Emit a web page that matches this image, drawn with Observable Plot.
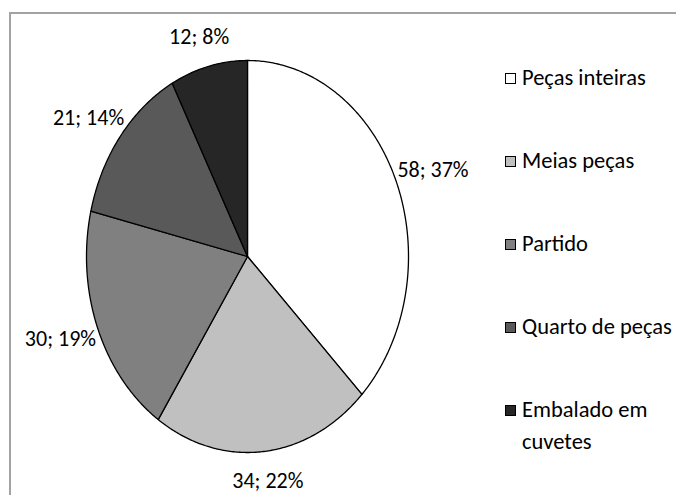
<!DOCTYPE html>
<html>
<head>
<meta charset="utf-8">
<script src="https://cdn.jsdelivr.net/npm/d3@7"></script>
<script src="https://cdn.jsdelivr.net/npm/@observablehq/plot@0.6"></script>
<style>
  html, body { margin: 0; padding: 0; background: #fff; }
  #wrap { position: relative; width: 676px; height: 495px; overflow: hidden;
          font-family: Carlito, Calibri, Lato, sans-serif; }
  #frame { position: absolute; left: 9px; top: 12px; width: 700px; height: 520px;
           border: 2px solid #a3a3a3; box-sizing: border-box; }
  #chart { position: absolute; left: 0; top: 0; }
  #legend { position: absolute; left: 505px; top: 62px; width: 190px; }
  .item { display: flex; align-items: flex-start; margin-bottom: 51px; }
  .sw { width: 9px; height: 9px; border: 1px solid #000; margin-top: 11px; margin-right: 6px; flex: none; }
  .lab { font-size: 22.5px; line-height: 32px; color: #000; white-space: normal; }
</style>
</head>
<body>
<div id="wrap">
  <div id="frame"></div>
  <div id="chart"></div>
  <div id="legend"></div>
</div>
<script>
// Categories, counts and slice colours
const categories = ["Peças inteiras", "Meias peças", "Partido", "Quarto de peças", "Embalado em cuvetes"];
const counts = [58, 34, 30, 21, 12];
const percentLabels = ["37%", "22%", "19%", "14%", "8%"];
const fills = ["#ffffff", "#c0c0c0", "#808080", "#595959", "#262626"];

const W = 676, H = 495;
const margin = {left: 86, right: 268, top: 60, bottom: 43};
const rx = (W - margin.left - margin.right) / 2;   // px per unit, horizontal
const ry = (H - margin.top - margin.bottom) / 2;   // px per unit, vertical

// Pie angles: clockwise from 12 o'clock, in the data order
const arcs = d3.pie().sort(null).value(d => d.value)(
  categories.map((name, i) => ({name, value: counts[i], label: `${counts[i]}; ${percentLabels[i]}`}))
);

// Each slice as a closed polygon in unit-circle coordinates
const polys = arcs.flatMap(a => {
  const n = Math.max(2, Math.ceil((a.endAngle - a.startAngle) / 0.01));
  const pts = [{name: a.data.name, x: 0, y: 0}];
  for (let k = 0; k <= n; ++k) {
    const t = a.startAngle + (a.endAngle - a.startAngle) * k / n;
    pts.push({name: a.data.name, x: Math.sin(t), y: Math.cos(t)});
  }
  return pts;
});

// Labels sit just outside the rim, along each slice's mid-angle
const labels = arcs.map(a => {
  const m = (a.startAngle + a.endAngle) / 2;
  return {
    label: a.data.label,
    x: Math.sin(m) * (1 + 40 / rx),
    y: Math.cos(m) * (1 + 30 / ry)
  };
});

const chart = Plot.plot({
  width: W,
  height: H,
  marginLeft: margin.left,
  marginRight: margin.right,
  marginTop: margin.top,
  marginBottom: margin.bottom,
  x: {domain: [-1, 1], axis: null},
  y: {domain: [-1, 1], axis: null},
  color: {domain: categories, range: fills},
  style: {background: "transparent", overflow: "visible"},
  marks: [
    Plot.line(polys, {x: "x", y: "y", z: "name", fill: "name", stroke: "#000", strokeWidth: 1.3,
                      strokeLinejoin: "round", curve: "linear-closed"}),
    Plot.text(labels, {x: "x", y: "y", text: "label", fontSize: 22, fill: "#000",
                       textAnchor: "middle", lineAnchor: "middle",
                       fontFamily: "Carlito, Calibri, Lato, sans-serif"})
  ]
});
document.getElementById("chart").appendChild(chart);

// Legend
const legend = document.getElementById("legend");
categories.forEach((name, i) => {
  const item = document.createElement("div");
  item.className = "item";
  const sw = document.createElement("div");
  sw.className = "sw";
  sw.style.background = fills[i];
  const lab = document.createElement("div");
  lab.className = "lab";
  lab.textContent = name;
  item.append(sw, lab);
  legend.appendChild(item);
});
</script>
</body>
</html>
